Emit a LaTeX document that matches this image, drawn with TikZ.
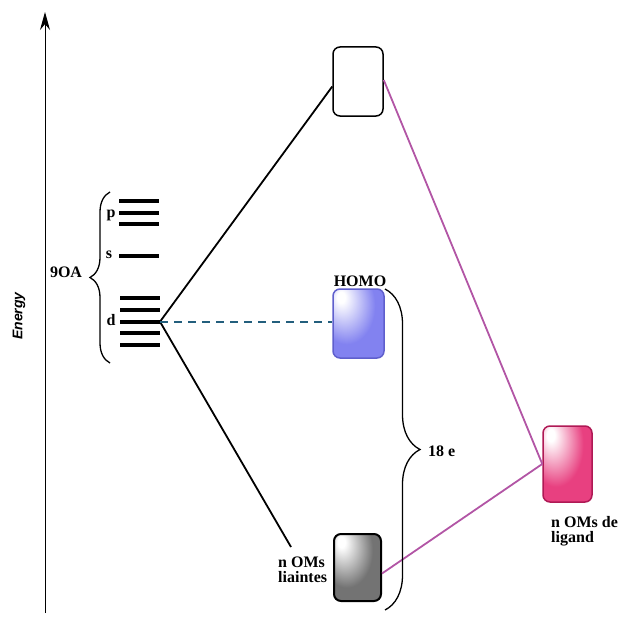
\documentclass[tikz,border=0pt]{standalone}
\usepackage{fontspec}
\setmainfont{Liberation Serif}
\newfontfamily\sansE{Liberation Sans}
\usetikzlibrary{arrows.meta,decorations.pathreplacing}
\definecolor{bluebox}{RGB}{130,130,240}
\definecolor{blueedge}{RGB}{95,95,205}
\definecolor{pinkbox}{RGB}{232,64,128}
\definecolor{pinkedge}{RGB}{175,25,85}
\definecolor{graybox}{RGB}{115,115,115}
\definecolor{ligcol}{RGB}{178,85,165}
\definecolor{dashcol}{RGB}{35,95,125}
\colorlet{boxbase}{gray}
\pgfdeclareradialshading[boxbase]{hlshade}{\pgfpoint{-18bp}{20bp}}{color(0bp)=(white); color(4bp)=(white); color(28bp)=(boxbase); color(55bp)=(boxbase); color(80bp)=(boxbase!70!black)}
\tikzset{
  lbl/.style={font=\fontsize{16}{15}\selectfont\bfseries, inner sep=0pt},
  mo/.style={rounded corners=7pt, minimum width=50pt, minimum height=69pt, inner sep=0pt, line width=1.5pt},
  boxcol/.code={\colorlet{boxbase}{#1}},
  level/.style={line width=4pt},
  bond/.style={line width=1.8pt},
  lig/.style={line width=1.8pt, draw=ligcol},
  brc/.style={line width=1.3pt, decorate}
}
\begin{document}
\begin{tikzpicture}[x=1pt,y=-1pt]
\useasboundingbox (0,0) rectangle (618,618);
% axis
\coordinate (ax0) at (45,613);
\coordinate (ax1) at (45,12);
\draw[line width=1pt,-{Stealth[length=18pt,width=10pt]}] (ax0) -- (ax1);
\node[font=\sansE\bfseries\itshape\fontsize{14}{14}\selectfont, rotate=90, inner sep=0pt] (energy) at (19,316) {Energy};
% atomic levels
\foreach \y in {200.7,212.7,224.3} \draw[level] (119,\y) -- (159,\y);
\draw[level] (119,256.3) -- (159,256.3);
\foreach \y in {298,309.7,321.7,333.3,344.7} \draw[level] (120,\y) -- (160,\y);
\coordinate (dC) at (160,321.7);
\node[lbl, anchor=base] (plab) at (111,217) {p};
\node[lbl, anchor=base] (slab) at (109,258) {s};
\node[lbl, anchor=base] (dlab) at (111,325.7) {d};
\node[lbl, anchor=base] (oa) at (66,277) {9OA};
\draw[brc, decoration={brace, amplitude=20pt}] (110,363) -- (110,192);
% molecular orbitals
\node[mo, draw=black, fill=white] (top) at (358,81.5) {};
\node[mo, boxcol=bluebox, draw=blueedge, shade, shading=hlshade, minimum width=51pt] (homo) at (358.5,323.5) {};
\node[mo, boxcol=graybox, draw=black, line width=2pt, shade, shading=hlshade, minimum width=47pt, minimum height=67pt] (gray) at (357.5,567.5) {};
\node[mo, boxcol=pinkbox, draw=pinkedge, shade, shading=hlshade, minimum width=49pt, minimum height=76pt] (pink) at (567.5,464) {};
\node[lbl, anchor=base] (homolab) at (360,286) {HOMO};
\node[lbl, anchor=north west, align=left] (lialab) at (278,557) {n OMs\\liaintes};
\node[lbl, anchor=north west, align=left] (liglab) at (551,516) {n OMs de\\ligand};
\coordinate (liaEnd) at (291,547);
% connectors
\draw[bond] (dC) -- ([yshift=-5pt]top.west);
\draw[bond] (dC) -- (liaEnd);
\draw[line width=1.8pt, dashcol, dash pattern=on 8pt off 6pt] (dC) -- (dC -| homo.west);
\draw[lig] ([yshift=1.5pt]top.east) -- (pink.west);
\draw[lig] ([yshift=-6pt]gray.east) -- (pink.west);
% electron count brace
\draw[brc, decoration={brace, amplitude=35pt}] (385,289) -- (385,610);
\node[lbl, anchor=base west] (e18) at (428,456) {18 e};
\end{tikzpicture}
\end{document}
